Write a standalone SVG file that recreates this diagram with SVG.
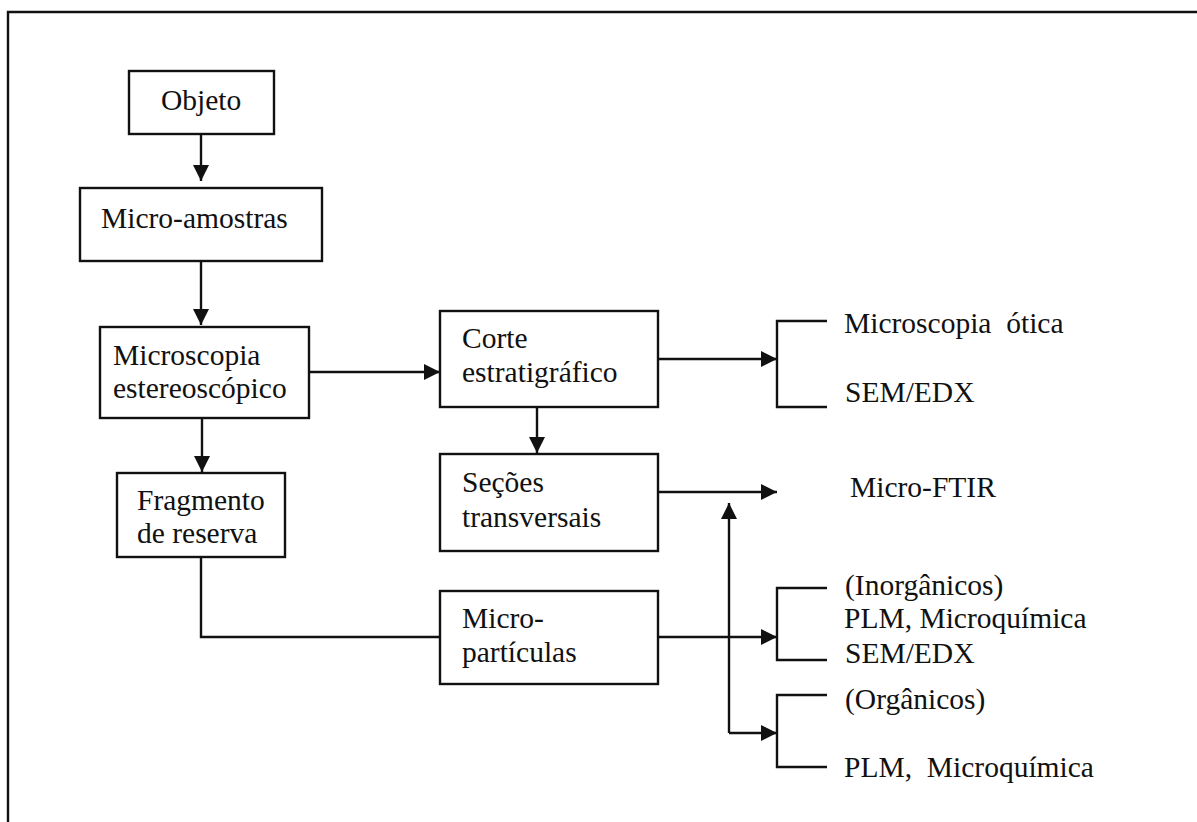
<svg xmlns="http://www.w3.org/2000/svg" width="1197" height="822" viewBox="0 0 1197 822">
<defs>
<style>
.box{fill:#fff;stroke:#111;stroke-width:2.4}
.ln{fill:none;stroke:#111;stroke-width:2.4}
text{font-family:"Liberation Serif","Times New Roman",serif;font-size:29.5px;fill:#111}
</style>
<marker id="ah" viewBox="0 0 10 10" refX="10" refY="5" markerWidth="16" markerHeight="16" markerUnits="userSpaceOnUse" orient="auto">
<path d="M0,0 L10,5 L0,10 z" fill="#111"/>
</marker>
</defs>
<rect width="1197" height="822" fill="#fff"/>
<path class="ln" d="M8,822 V12 H1197"/>
<g id="connectors">
<path class="ln" d="M201,134 V181" marker-end="url(#ah)"/>
<path class="ln" d="M201,261 V325" marker-end="url(#ah)"/>
<path class="ln" d="M309,372 H440" marker-end="url(#ah)"/>
<path class="ln" d="M202,418 V472" marker-end="url(#ah)"/>
<path class="ln" d="M537,407 V453" marker-end="url(#ah)"/>
<path class="ln" d="M658,359 H777" marker-end="url(#ah)"/>
<path class="ln" d="M658,492 H777" marker-end="url(#ah)"/>
<path class="ln" d="M201,557 V637 H440"/>
<path class="ln" d="M658,637 H777" marker-end="url(#ah)"/>
<path class="ln" d="M729,733 V503" marker-end="url(#ah)"/>
<path class="ln" d="M729,733 H777" marker-end="url(#ah)"/>
<path class="ln" d="M827,321 H777 V407 H827"/>
<path class="ln" d="M827,588 H777 V660 H827"/>
<path class="ln" d="M827,695 H777 V767 H827"/>
</g>
<g id="objeto"><rect class="box" x="129" y="71" width="145" height="63"/><text x="161" y="110">Objeto</text></g>
<g id="micro-amostras"><rect class="box" x="80" y="188" width="242" height="73"/><text x="101" y="228">Micro-amostras</text></g>
<g id="microscopia"><rect class="box" x="100" y="327" width="209" height="91"/><text x="113" y="365">Microscopia</text><text x="113" y="398">estereoscópico</text></g>
<g id="fragmento"><rect class="box" x="117" y="473" width="168" height="84"/><text x="137" y="510">Fragmento</text><text x="137" y="543">de reserva</text></g>
<g id="corte"><rect class="box" x="440" y="311" width="218" height="96"/><text x="462" y="348">Corte</text><text x="462" y="382">estratigráfico</text></g>
<g id="secoes"><rect class="box" x="440" y="454" width="218" height="97"/><text x="462" y="492">Seções</text><text x="462" y="527">transversais</text></g>
<g id="microparticulas"><rect class="box" x="440" y="591" width="218" height="93"/><text x="462" y="628">Micro-</text><text x="462" y="662">partículas</text></g>
<g id="labels-corte"><text x="844" y="333" xml:space="preserve">Microscopia  ótica</text><text x="845" y="402">SEM/EDX</text></g>
<g id="label-ftir"><text x="850" y="497">Micro-FTIR</text></g>
<g id="labels-inorg"><text x="845" y="595">(Inorgânicos)</text><text x="844" y="628">PLM, Microquímica</text><text x="845" y="663">SEM/EDX</text></g>
<g id="labels-org"><text x="845" y="709">(Orgânicos)</text><text x="844" y="777" xml:space="preserve">PLM,  Microquímica</text></g>
</svg>
